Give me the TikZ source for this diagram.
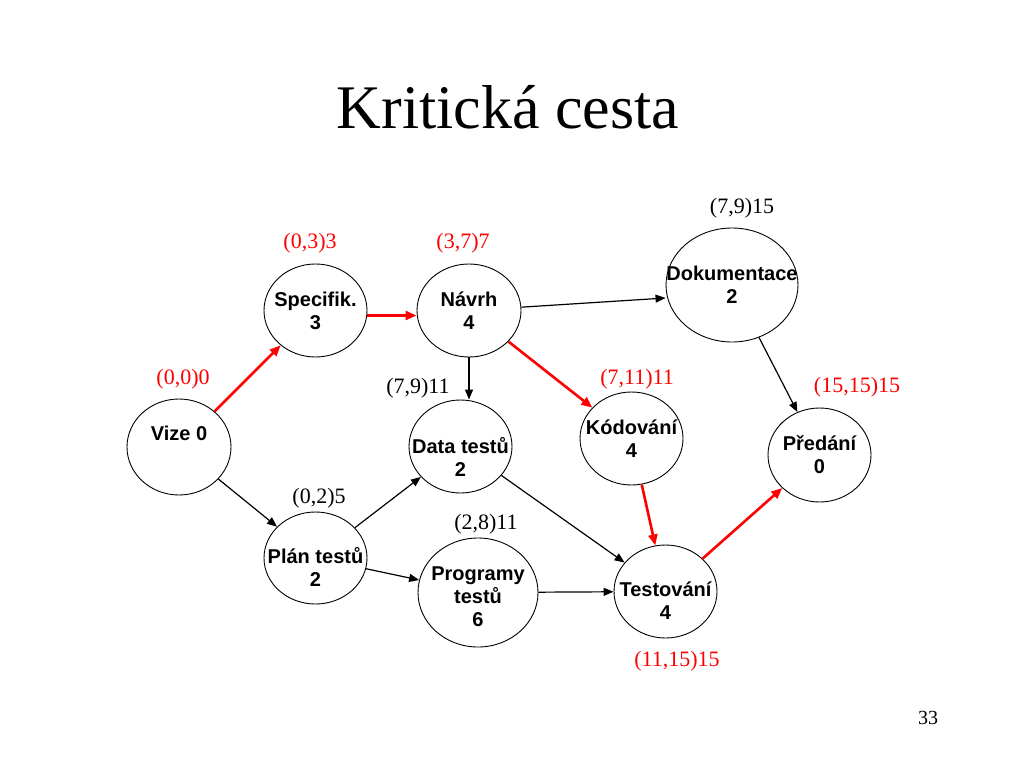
\documentclass[tikz,border=0pt]{standalone}
\usepackage{fontspec}
\setmainfont{Liberation Serif}
\newfontfamily\boxfont{Liberation Sans}
\usetikzlibrary{shapes.geometric, arrows.meta}

\tikzset{
  task/.style={draw, ellipse, inner sep=0pt, line width=0.9pt, fill=white},
  tasktext/.style={font=\boxfont\bfseries\fontsize{20}{23}\selectfont, align=center},
  times/.style={font=\fontsize{22}{26}\selectfont, inner sep=0pt},
  crit/.style={red, line width=2.6pt, -{Triangle[length=11pt,width=9pt]}},
  dep/.style={line width=1.2pt, -{Triangle[length=10pt,width=8pt]}}
}

\begin{document}
\begin{tikzpicture}[x=1pt, y=-1pt]
        \useasboundingbox (0,0) rectangle (1024,768);
        \node[anchor=base, font=\fontsize{62}{70}\selectfont, inner sep=0pt] (title) at (508,128) {Kritická cesta};
        \node[font=\fontsize{20}{24}\selectfont, inner sep=0pt] (page) at (928,718) {33};

        % activities
        \node[task, minimum width=104pt, minimum height=96pt, label={[tasktext, yshift=14pt]center:Vize 0}] (vize) at (179,447) {};
        \node[task, minimum width=103pt, minimum height=93pt, label={[tasktext]center:Specifik.\\3}] (spec) at (315.5,310.5) {};
        \node[task, minimum width=104pt, minimum height=93pt, label={[tasktext]center:Návrh\\4}] (navrh) at (469,310.5) {};
        \node[task, minimum width=132pt, minimum height=114pt, label={[tasktext]center:Dokumentace\\2}] (dok) at (732,285) {};
        \node[task, minimum width=103pt, minimum height=93pt, label={[tasktext, yshift=-10pt]center:Data testů\\2}] (data) at (460.5,446.5) {};
        \node[task, minimum width=103pt, minimum height=93pt, label={[tasktext]center:Kódování\\4}] (kod) at (631.5,438.5) {};
        \node[task, minimum width=103pt, minimum height=94pt, label={[tasktext]center:Předání\\0}] (pred) at (819.5,455) {};
        \node[task, minimum width=103pt, minimum height=92pt, label={[tasktext, yshift=-9pt]center:Plán testů\\2}] (plan) at (315.5,558) {};
        \node[task, minimum width=120pt, minimum height=109pt, label={[tasktext, yshift=-4pt]center:Programy\\testů\\6}] (prog) at (478,592.5) {};
        \node[task, minimum width=103pt, minimum height=93pt, label={[tasktext, yshift=-9pt]center:Testování\\4}] (test) at (665.5,591.5) {};

        % times
        \node[times, red] (tvize) at (183,379) {(0,0)0};
        \node[times, red] (tspec) at (310,243) {(0,3)3};
        \node[times, red] (tnavrh) at (463,243) {(3,7)7};
        \node[times] (tdok) at (742,208) {(7,9)15};
        \node[times] (tdata) at (418,388) {(7,9)11};
        \node[times, red] (tkod) at (637,379) {(7,11)11};
        \node[times, red] (tpred) at (857,387) {(15,15)15};
        \node[times] (tplan) at (319,498) {(0,2)5};
        \node[times] (tprog) at (486,524) {(2,8)11};
        \node[times, red] (ttest) at (677,661) {(11,15)15};

        % dependencies
        \draw[dep] (navrh) -- ([yshift=-13pt]dok.west);
        \draw[dep] (navrh.south) -- (navrh.south |- data.north);
        \draw[dep] (dok) -- (pred);
        \draw[dep] (vize) -- (plan);
        \draw[dep] (plan) -- (data);
        \draw[dep] (plan) -- (prog);
        \draw[dep] (data) -- (test);
        \draw[dep] (prog) -- (test);

        % critical path
        \draw[crit] (vize) -- (spec);
        \draw[crit] ([yshift=-5pt]spec.east) -- ([yshift=-5pt]navrh.west);
        \draw[crit] (navrh) -- (kod);
        \draw[crit] (kod) -- (test);
        \draw[crit] (test) -- (pred);
\end{tikzpicture}
\end{document}
